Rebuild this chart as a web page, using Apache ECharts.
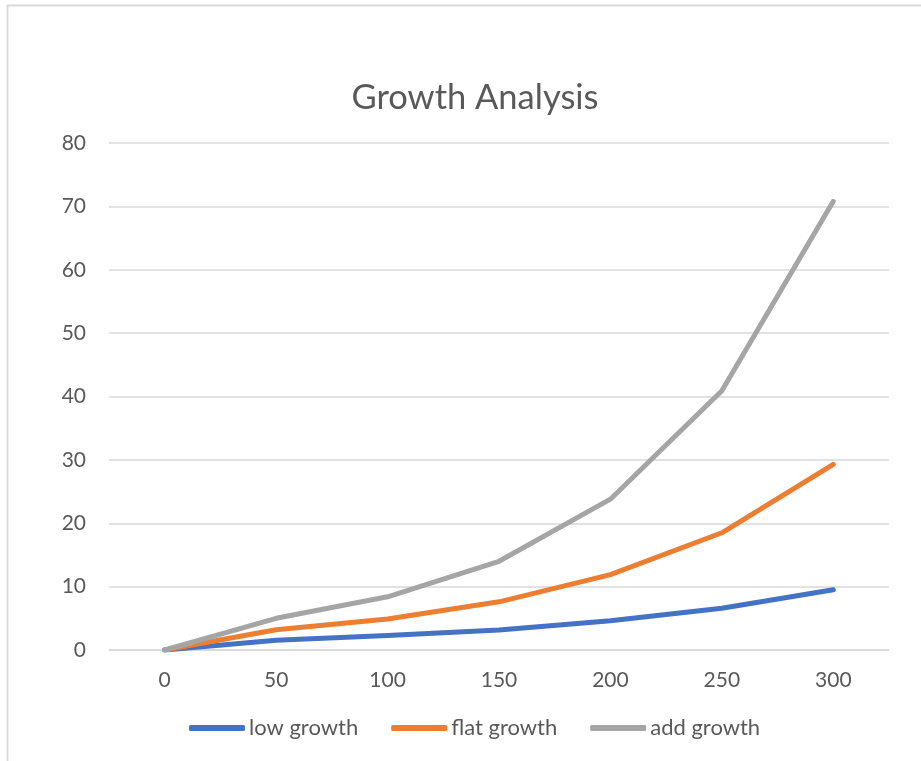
<!DOCTYPE html>
<html>
<head>
<meta charset="utf-8">
<title>Growth Analysis</title>
<script src="https://cdn.jsdelivr.net/npm/echarts@6/dist/echarts.min.js"></script>
<style>
  html, body { margin: 0; padding: 0; background: #ffffff; }
  #chart { width: 921px; height: 761px; }
</style>
</head>
<body>
<div id="chart"></div>
<script>
// Growth curves sampled every 50 units
const categories = ['0', '50', '100', '150', '200', '250', '300'];
const lowGrowth  = [0, 1.55, 2.3, 3.15, 4.6, 6.6, 9.5];
const flatGrowth = [0, 3.2, 4.9, 7.6, 11.9, 18.5, 29.3];
const addGrowth  = [0, 5.0, 8.4, 14.0, 23.8, 40.9, 70.8];
const seriesNames = ['low growth', 'flat growth', 'add growth'];

const FONT = 'Lato, "Open Sans", sans-serif';
const TEXT = '#595959';
const GRID = '#d9d9d9';
const colors = ['#4472C4', '#ED7D31', '#A5A5A5'];

function lineSeries(name, data, color) {
  return {
    name: name,
    type: 'line',
    data: data,
    symbol: 'none',
    smooth: false,
    lineStyle: { color: color, width: 5, cap: 'round', join: 'round' },
    itemStyle: { color: color }
  };
}

const chart = echarts.init(document.getElementById('chart'), null, { renderer: 'canvas' });
chart.setOption({
  animation: false,
  backgroundColor: '#ffffff',
  color: colors,
  title: {
    text: 'Growth Analysis',
    left: 470,
    top: 75,
    textAlign: 'center',
    textStyle: { fontFamily: FONT, fontSize: 34.5, fontWeight: 'normal', color: TEXT }
  },
  graphic: [{
    type: 'rect',
    shape: { x: 7.5, y: 5.5, width: 1000, height: 1000 },
    style: { fill: 'none', stroke: GRID, lineWidth: 1.8 },
    silent: true
  }],
  grid: { left: 109, right: 32, top: 143, bottom: 111, containLabel: false },
  legend: {
    top: 710,
    left: 184,
    itemWidth: 56,
    itemHeight: 6,
    itemGap: 33,
    icon: 'roundRect',
    data: seriesNames,
    textStyle: { fontFamily: FONT, fontSize: 22, lineHeight: 26, color: TEXT, padding: [0, 0, 0, -1] }
  },
  xAxis: {
    type: 'category',
    data: categories,
    boundaryGap: true,
    axisLine: { show: true, lineStyle: { color: GRID, width: 1.5 } },
    axisTick: { show: false },
    axisLabel: { margin: 20, fontFamily: FONT, fontSize: 21, color: TEXT },
    splitLine: { show: false }
  },
  yAxis: {
    type: 'value',
    min: 0,
    max: 80,
    interval: 10,
    axisLine: { show: false },
    axisTick: { show: false },
    axisLabel: { margin: 23, fontFamily: FONT, fontSize: 21, color: TEXT },
    splitLine: { show: true, lineStyle: { color: GRID, width: 1.5 } }
  },
  series: [
    lineSeries(seriesNames[0], lowGrowth, colors[0]),
    lineSeries(seriesNames[1], flatGrowth, colors[1]),
    lineSeries(seriesNames[2], addGrowth, colors[2])
  ]
});
</script>
</body>
</html>
